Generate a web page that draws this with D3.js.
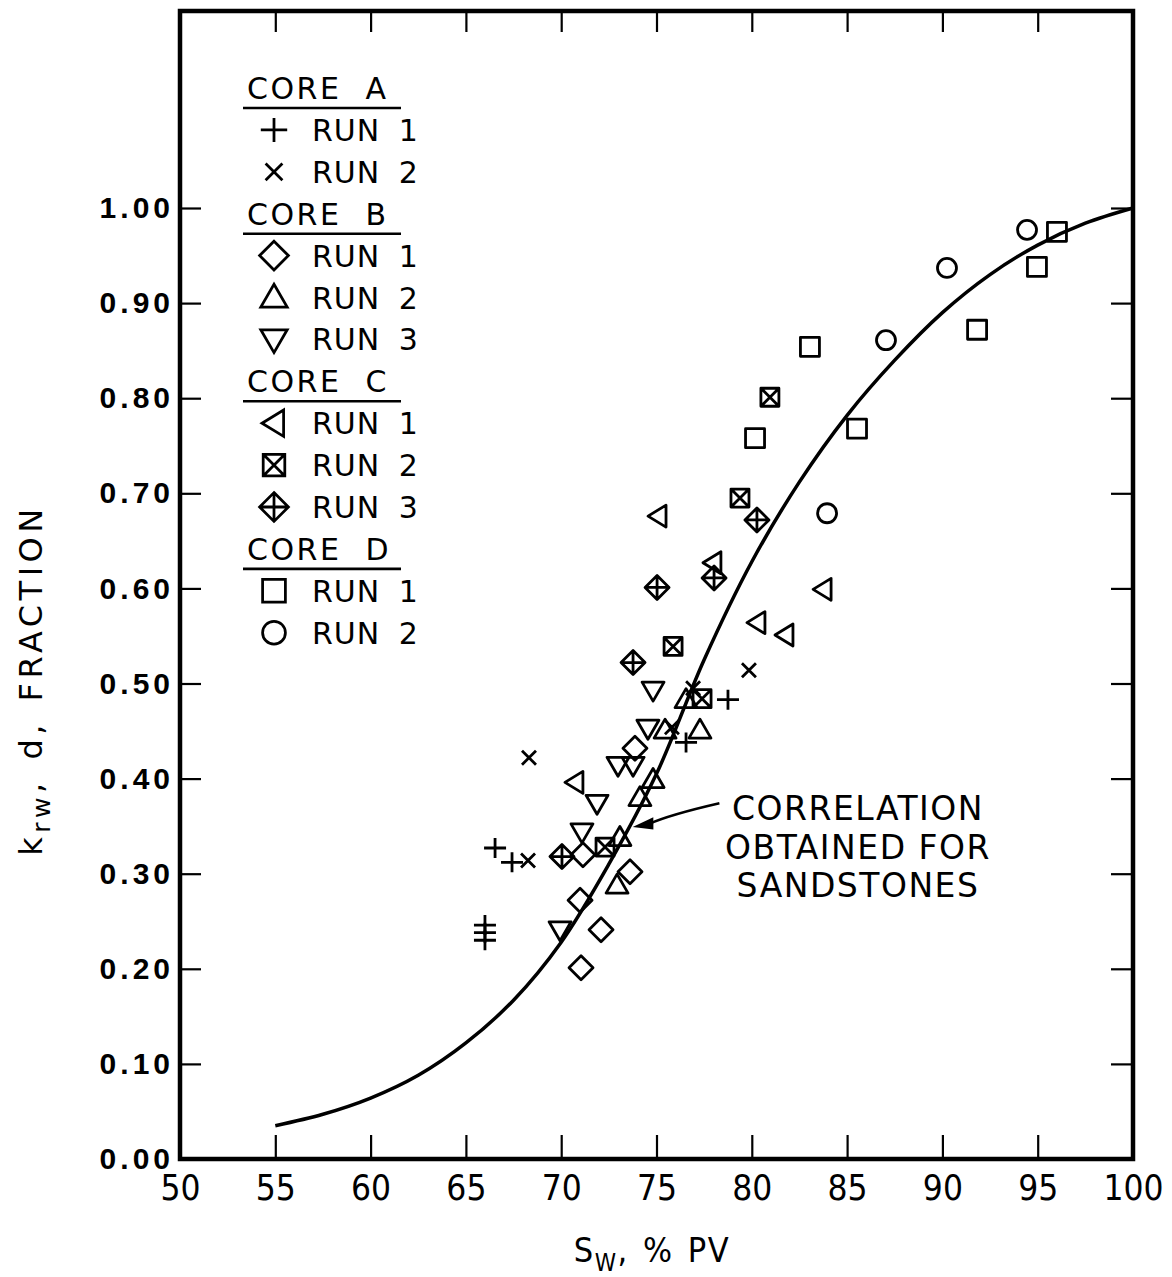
<!DOCTYPE html>
<html>
<head>
<meta charset="utf-8">
<script src="https://cdn.jsdelivr.net/npm/d3@7"></script>
<style>
  body { margin: 0; background: #fff; }
  svg { display: block; }
</style>
</head>
<body>
<div id="chart"></div>
<script>
// tick values
const xTicks = [50, 55, 60, 65, 70, 75, 80, 85, 90, 95, 100];
const yTicks = [0, 0.1, 0.2, 0.3, 0.4, 0.5, 0.6, 0.7, 0.8, 0.9, 1.0];

// [Sw %PV, krw fraction]
const coreA_run1 = [[66.53,0.327],[67.42,0.312],[66.0,0.246],[66.0,0.238],[66.0,0.230],[76.55,0.438],[78.75,0.483]];
const coreA_run2 = [[68.31,0.422],[68.26,0.314],[75.81,0.454],[76.92,0.495],[79.85,0.514]];
const coreB_run1 = [[71.04,0.201],[72.09,0.241],[70.99,0.272],[71.14,0.320],[73.61,0.302],[73.87,0.432]];
const coreB_run2 = [[72.93,0.288],[73.08,0.338],[74.13,0.380],[74.82,0.399],[75.45,0.451],[77.28,0.451],[76.55,0.483]];
const coreB_run3 = [[69.94,0.241],[71.09,0.344],[71.88,0.374],[72.98,0.414],[73.77,0.414],[74.55,0.453],[74.82,0.493]];
const coreC_run1 = [[70.72,0.396],[75.08,0.676],[77.96,0.627],[80.27,0.564],[81.74,0.551],[83.74,0.599]];
const coreC_run2 = [[72.30,0.328],[77.39,0.484],[75.87,0.539],[79.38,0.695],[80.95,0.801]];
const coreC_run3 = [[70.04,0.318],[73.77,0.522],[75.03,0.601],[78.02,0.611],[80.27,0.672]];
const coreD_run1 = [[80.17,0.758],[83.05,0.854],[85.52,0.768],[91.82,0.872],[94.96,0.938],[96.01,0.975]];
const coreD_run2 = [[83.95,0.679],[87.04,0.861],[90.24,0.937],[94.44,0.977]];

// sandstone correlation curve
const correlation = [[55,0.035],[57.5,0.047],[60,0.064],[62.5,0.088],[65,0.122],[67.5,0.167],
  [70,0.228],[72.5,0.310],[75,0.405],[77.5,0.525],[80,0.628],[82.5,0.712],[85,0.782],
  [87.5,0.840],[90,0.890],[92.5,0.930],[95,0.961],[97.5,0.984],[100,1.0]];

const legendRows = [
  { head: "CORE  A" },
  { sym: "plus", label: "RUN 1", data: coreA_run1 },
  { sym: "times", label: "RUN 2", data: coreA_run2 },
  { head: "CORE  B" },
  { sym: "diamond", label: "RUN 1", data: coreB_run1 },
  { sym: "triUp", label: "RUN 2", data: coreB_run2 },
  { sym: "triDown", label: "RUN 3", data: coreB_run3 },
  { head: "CORE  C" },
  { sym: "triLeft", label: "RUN 1", data: coreC_run1 },
  { sym: "boxX", label: "RUN 2", data: coreC_run2 },
  { sym: "diamondPlus", label: "RUN 3", data: coreC_run3 },
  { head: "CORE  D" },
  { sym: "square", label: "RUN 1", data: coreD_run1 },
  { sym: "circle", label: "RUN 2", data: coreD_run2 }
];

const width = 1172, height = 1277;
const svg = d3.select("#chart").append("svg")
  .attr("width", width)
  .attr("height", height)
  .style("font-family", "'DejaVu Sans', sans-serif");

const x = d3.scaleLinear().domain([50, 100]).range([180, 1133]);
const y = d3.scaleLinear().domain([0, 1]).range([1159, 208]);
const yTop = 11;

function symbolPath(type) {
  switch (type) {
    case "plus": return "M-11,0H11M0,-10V10";
    case "times": return "M-7,-7L7,7M-7,7L7,-7";
    case "diamond": return "M0,-12L12,0L0,12L-12,0Z";
    case "triUp": return "M0,-11L11,8H-11Z";
    case "triDown": return "M0,11L11,-8H-11Z";
    case "triLeft": return "M-10,0L8,-11V11Z";
    case "boxX": return "M-9,-9H9V9H-9ZM-9,-9L9,9M9,-9L-9,9";
    case "diamondPlus": return "M0,-12L12,0L0,12L-12,0ZM-12,0H12M0,-12V12";
    case "square": return "M-9.5,-9.5H9.5V9.5H-9.5Z";
    case "circle": return "M9.5,0A9.5,9.5 0 1,1 -9.5,0A9.5,9.5 0 1,1 9.5,0Z";
  }
}

// axes: ticks point inward
const left = svg.append("g").attr("transform", "translate(180,0)")
  .call(d3.axisLeft(y).tickValues(yTicks).tickSize(-21).tickPadding(6).tickFormat(d3.format(".2f")));
left.selectAll("text")
  .style("font-size", "30px").style("font-weight", "bold").style("letter-spacing", "4px");

const bottom = svg.append("g").attr("transform", "translate(0,1159)")
  .call(d3.axisBottom(x).tickValues(xTicks).tickSize(-24).tickPadding(16));
bottom.selectAll("text")
  .style("font-family", "'DejaVu Sans Condensed', 'DejaVu Sans', sans-serif")
  .style("font-size", "35px");

svg.append("g").attr("transform", "translate(0," + yTop + ")")
  .call(d3.axisTop(x).tickValues(xTicks.slice(1, -1)).tickSize(-21).tickFormat(""));
svg.append("g").attr("transform", "translate(1133,0)")
  .call(d3.axisRight(y).tickValues(yTicks.slice(1)).tickSize(-22).tickFormat(""));

svg.selectAll(".domain").remove();
svg.selectAll(".tick line").attr("stroke", "#000").attr("stroke-width", 2.2);
svg.selectAll(".tick text").attr("fill", "#000");

// heavy frame
svg.append("rect")
  .attr("x", 180).attr("y", yTop)
  .attr("width", 1133 - 180).attr("height", 1159 - yTop)
  .attr("fill", "none").attr("stroke", "#000").attr("stroke-width", 4.5);

// correlation curve
svg.append("path")
  .datum(correlation)
  .attr("fill", "none")
  .attr("stroke", "#000")
  .attr("stroke-width", 3.5)
  .attr("d", d3.line().x(d => x(d[0])).y(d => y(d[1])).curve(d3.curveCatmullRom.alpha(0.5)));

// data points
const series = legendRows.filter(r => r.data);
svg.selectAll("g.series")
  .data(series)
  .join("g")
  .attr("class", "series")
  .each(function (s) {
    d3.select(this).selectAll("path")
      .data(s.data)
      .join("path")
      .attr("transform", d => "translate(" + x(d[0]) + "," + y(d[1]) + ")")
      .attr("d", symbolPath(s.sym))
      .attr("fill", "none")
      .attr("stroke", "#000")
      .attr("stroke-width", 2.8)
      .attr("stroke-linejoin", "round");
  });

// annotation with arrow
const arrowFrom = [78.3, 0.374], arrowMid = [75.7, 0.362], arrowTip = [73.75, 0.349];
svg.append("path")
  .attr("d", "M" + x(arrowFrom[0]) + "," + y(arrowFrom[1]) +
    "Q" + x(arrowMid[0]) + "," + y(arrowMid[1]) + " " + (x(arrowTip[0]) + 16) + "," + (y(arrowTip[1]) - 3))
  .attr("fill", "none").attr("stroke", "#000").attr("stroke-width", 2.5);
svg.append("path")
  .attr("transform", "translate(" + x(arrowTip[0]) + "," + y(arrowTip[1]) + ") rotate(-10)")
  .attr("d", "M0,0L22,-6L20,6Z")
  .attr("fill", "#000");

const note = svg.append("text")
  .attr("x", 858).attr("y", 820)
  .attr("text-anchor", "middle")
  .style("font-size", "33px")
  .style("letter-spacing", "1.5px");
["CORRELATION", "OBTAINED FOR", "SANDSTONES"].forEach((t, i) => {
  note.append("tspan").attr("x", 858).attr("dy", i ? 38.5 : 0).text(t);
});

// legend
const legend = svg.append("g");
legendRows.forEach((r, i) => {
  const cy = 88 + i * 41.9;
  if (r.head) {
    legend.append("text")
      .attr("x", 247).attr("y", cy + 11)
      .style("font-size", "30px").style("letter-spacing", "2.5px")
      .style("white-space", "pre")
      .text(r.head);
    legend.append("line")
      .attr("x1", 243).attr("x2", 401)
      .attr("y1", cy + 20).attr("y2", cy + 20)
      .attr("stroke", "#000").attr("stroke-width", 2.6);
  } else {
    legend.append("path")
      .attr("transform", "translate(274," + cy + ") scale(1.2)")
      .attr("d", symbolPath(r.sym))
      .attr("fill", "none").attr("stroke", "#000").attr("stroke-width", 2.3);
    legend.append("text")
      .attr("x", 312).attr("y", cy + 11)
      .style("font-size", "30px").style("letter-spacing", "1px")
      .style("word-spacing", "8px")
      .text(r.label);
  }
});

// axis titles
const yTitle = svg.append("text")
  .attr("transform", "translate(42,680) rotate(-90)")
  .attr("text-anchor", "middle")
  .style("font-size", "32px")
  .style("letter-spacing", "4.5px")
  .style("word-spacing", "4px");
yTitle.append("tspan").text("k");
yTitle.append("tspan").attr("dy", 8).style("font-size", "25px").text("rw");
yTitle.append("tspan").attr("dy", -8).text(", d, FRACTION");

const xTitle = svg.append("text")
  .attr("x", 652).attr("y", 1262)
  .attr("text-anchor", "middle")
  .style("font-family", "'DejaVu Sans Condensed', 'DejaVu Sans', sans-serif")
  .style("font-size", "34px")
  .style("letter-spacing", "1.5px")
  .style("word-spacing", "3px");
xTitle.append("tspan").text("S");
xTitle.append("tspan").attr("dy", 9).style("font-size", "24px").text("W");
xTitle.append("tspan").attr("dy", -9).text(", % PV");
</script>
</body>
</html>
